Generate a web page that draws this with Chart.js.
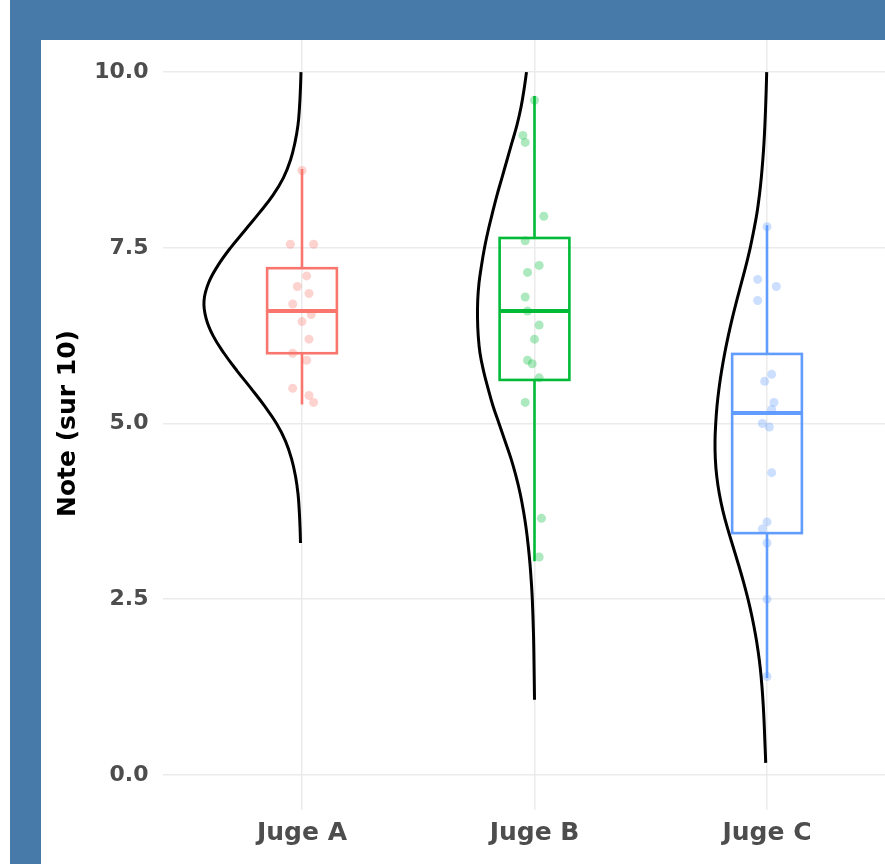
<!DOCTYPE html>
<html>
<head>
<meta charset="utf-8">
<script src="https://cdn.jsdelivr.net/npm/chart.js@4/dist/chart.umd.min.js"></script>
<style>
  body { margin: 0; background: #fff; width: 885px; height: 864px; overflow: hidden; position: relative; }
  .band { position: absolute; background: #4779a9; z-index: 2; }
  #top { left: 10px; top: 0; width: 875px; height: 40px; }
  #left { left: 10px; top: 0; width: 31px; height: 864px; }
  #graphic { position: absolute; left: 41px; top: 0; background: #fff; z-index: 1; }
</style>
</head>
<body>
<div class="band" id="top"></div>
<div class="band" id="left"></div>
<canvas id="graphic" width="844" height="864"></canvas>
<script>
const judges = ["Juge A", "Juge B", "Juge C"];
const colors = ["#F8766D", "#00BA38", "#619CFF"];
const yTicks = [0, 2.5, 5, 7.5, 10];

// box stats: min, q1, median, q3, max
const boxA = [5.27, 6.0, 6.6, 7.21, 8.62];
const boxB = [3.04, 5.62, 6.6, 7.64, 9.66];
const boxC = [1.38, 3.44, 5.15, 5.99, 7.82];

// jittered notes (value) and small horizontal jitter
const notesA = [8.6, 7.55, 7.55, 7.1, 6.95, 6.85, 6.7, 6.55, 6.45, 6.2, 6.0, 5.9, 5.5, 5.4, 5.3];
const jitterA = [0.0, -0.05, 0.05, 0.02, -0.02, 0.03, -0.04, 0.04, 0.0, 0.03, -0.04, 0.02, -0.04, 0.03, 0.05];
const notesB = [9.6, 9.1, 9.0, 7.95, 7.6, 7.25, 7.15, 6.8, 6.6, 6.4, 6.2, 5.9, 5.85, 5.65, 5.3, 3.65, 3.1];
const jitterB = [0.0, -0.05, -0.04, 0.04, -0.04, 0.02, -0.03, -0.04, -0.03, 0.02, 0.0, -0.03, -0.01, 0.02, -0.04, 0.03, 0.02];
const notesC = [7.8, 7.05, 6.95, 6.75, 5.7, 5.6, 5.3, 5.2, 5.0, 4.95, 4.3, 3.6, 3.5, 3.3, 2.5, 1.4];
const jitterC = [0.0, -0.04, 0.04, -0.04, 0.02, -0.01, 0.03, 0.02, -0.02, 0.01, 0.02, 0.0, -0.02, 0.0, 0.0, 0.0];

// half density curves (drawn to the left): note value and relative density
const densValA = [10, 9.75, 9.5, 9.25, 9, 8.75, 8.5, 8.25, 8, 7.75, 7.5, 7.25, 7, 6.75, 6.5, 6.25, 6, 5.75, 5.5, 5.25, 5, 4.75, 4.5, 4.25, 4, 3.75, 3.5, 3.3];
const densA = [1, 1.6, 2.5, 4, 7, 11.5, 18.5, 29, 42.5, 57, 71.5, 84, 93.5, 98, 96, 89, 78, 65, 51, 37.5, 25.5, 16.5, 10.5, 6.5, 4, 2.7, 1.9, 1.5];
const densValB = [10, 9.75, 9.5, 9.25, 9, 8.75, 8.5, 8.25, 8, 7.75, 7.5, 7.25, 7, 6.75, 6.5, 6.25, 6, 5.75, 5.5, 5.25, 5, 4.75, 4.5, 4.25, 4, 3.75, 3.5, 3.25, 3, 2.75, 2.5, 2, 1.5, 1.07];
const densB = [8, 10.5, 13.5, 17.5, 22.5, 27.5, 32.5, 37.5, 42, 46.3, 50, 53, 55.5, 56.8, 57, 56.3, 54.5, 51, 46.5, 41.5, 35.5, 29.5, 23.5, 18.5, 14.3, 11, 8.3, 6.2, 4.5, 3.2, 2.2, 1, 0.4, 0];
const densValC = [10, 9.75, 9.5, 9.25, 9, 8.75, 8.5, 8.25, 8, 7.75, 7.5, 7.25, 7, 6.75, 6.5, 6.25, 6, 5.75, 5.5, 5.25, 5, 4.75, 4.5, 4.25, 4, 3.75, 3.5, 3.25, 3, 2.75, 2.5, 2.25, 2, 1.75, 1.5, 1.25, 1, 0.75, 0.5, 0.25, 0.17];
const densC = [0.3, 0.8, 1.4, 2.1, 3, 4.2, 5.7, 7.6, 10, 13.2, 16.8, 21, 25.6, 30.3, 34.7, 38.7, 42.3, 45.4, 48, 50, 51.3, 52, 51.7, 50.3, 47.7, 44, 39.3, 34, 28.7, 23.6, 19, 15, 11.6, 8.8, 6.6, 5, 3.8, 2.9, 2.2, 1.5, 1.3];

const boxes = [boxA, boxB, boxC];
const notes = [notesA, notesB, notesC];
const jitters = [jitterA, jitterB, jitterC];
const densVals = [densValA, densValB, densValC];
const dens = [densA, densB, densC];

const boxHalf = 0.15;
const densScale = 0.0043; // relative density -> category width

const withAlpha = (hex, a) => {
  const n = parseInt(hex.slice(1), 16);
  return `rgba(${n >> 16}, ${(n >> 8) & 255}, ${n & 255}, ${a})`;
};

// boxes and whiskers drawn through the scales
const boxPlugin = {
  id: "boxes",
  beforeDatasetsDraw(chart) {
    const { ctx, scales: { x, y } } = chart;
    ctx.save();
    boxes.forEach((b, i) => {
      const [min, q1, med, q3, max] = b;
      const cx = x.getPixelForValue(i);
      const l = x.getPixelForValue(i - boxHalf);
      const r = x.getPixelForValue(i + boxHalf);
      ctx.strokeStyle = colors[i];
      ctx.lineWidth = 2.6;
      ctx.beginPath();
      ctx.moveTo(cx, y.getPixelForValue(max));
      ctx.lineTo(cx, y.getPixelForValue(q3));
      ctx.moveTo(cx, y.getPixelForValue(q1));
      ctx.lineTo(cx, y.getPixelForValue(min));
      ctx.stroke();
      ctx.strokeRect(l, y.getPixelForValue(q3), r - l, y.getPixelForValue(q1) - y.getPixelForValue(q3));
      ctx.lineWidth = 4;
      ctx.beginPath();
      ctx.moveTo(l, y.getPixelForValue(med));
      ctx.lineTo(r, y.getPixelForValue(med));
      ctx.stroke();
    });
    ctx.restore();
  }
};

const datasets = [];
judges.forEach((j, i) => {
  datasets.push({
    label: j,
    data: notes[i].map((v, k) => ({ x: i + jitters[i][k], y: v })),
    pointRadius: 4.5,
    pointBorderWidth: 0,
    pointBackgroundColor: withAlpha(colors[i], 0.32),
    order: 2
  });
});
judges.forEach((j, i) => {
  datasets.push({
    label: j + " densité",
    data: densVals[i].map((v, k) => ({ x: i - dens[i][k] * densScale, y: v })),
    showLine: true,
    borderColor: "#000",
    borderWidth: 3,
    pointRadius: 0,
    tension: 0.4,
    order: 1
  });
});

const ctx = document.getElementById("graphic");

const chart = new Chart(ctx, {
  type: "scatter",
  data: { datasets },
  plugins: [boxPlugin],
  options: {
    responsive: false,
    animation: false,
    layout: { autoPadding: false, padding: { top: 37, left: 12, right: 0, bottom: 0 } },
    plugins: { legend: { display: false }, tooltip: { enabled: false } },
    scales: {
      x: {
        type: "linear",
        min: -0.6,
        max: 2.5075,
        afterBuildTicks: (scale) => { scale.ticks = judges.map((_, i) => ({ value: i })); },
        afterFit: (scale) => { scale.height = 54; },
        grid: { color: "#ebebeb", lineWidth: 1.5, drawTicks: false },
        border: { display: false },
        ticks: {
          padding: 8,
          color: "#4d4d4d",
          font: { family: "DejaVu Sans", weight: "bold", size: 25 },
          callback: (v) => judges[v]
        }
      },
      y: {
        type: "linear",
        min: -0.5,
        max: 10.5,
        afterBuildTicks: (scale) => { scale.ticks = yTicks.map((v) => ({ value: v })); },
        afterFit: (scale) => { scale.width = 109.5; },
        grid: { color: "#ebebeb", lineWidth: 1.5, drawTicks: false },
        border: { display: false },
        ticks: {
          padding: 14,
          color: "#4d4d4d",
          font: { family: "DejaVu Sans", weight: "bold", size: 22 },
          callback: (v) => v.toFixed(1)
        },
        title: {
          display: true,
          text: "Note (sur 10)",
          color: "#000",
          padding: 0,
          font: { family: "DejaVu Sans", weight: "bold", size: 25 }
        }
      }
    }
  }
});
</script>
</body>
</html>
